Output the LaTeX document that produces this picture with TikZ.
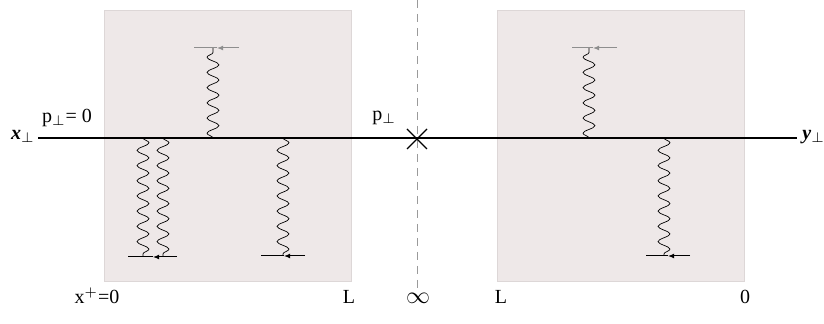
\documentclass[tikz,border=0pt]{standalone}
\usepackage{fontspec}
\setmainfont{Liberation Serif}
\usetikzlibrary{arrows.meta,decorations.pathmorphing,positioning,calc}
\definecolor{medfill}{HTML}{EEE8E8}
\definecolor{mededge}{HTML}{DDD7D7}
\definecolor{greyline}{HTML}{8E8E8E}
\definecolor{cutgrey}{HTML}{9A9A9A}
\tikzset{
  medium/.style={fill=medfill, draw=mededge, line width=0.4pt},
  quark/.style={line width=0.55pt, color=black},
  gluon/.style={decorate, decoration={snake, amplitude=3pt, segment length=7.6pt}, line width=0.35pt},
  ext/.style={line width=0.5pt},
  tip/.style={-{Latex[length=3pt,width=2.4pt]}},
  cut/.style={dash pattern=on 4pt off 3pt, color=cutgrey, line width=0.4pt},
  lbl/.style={inner sep=0pt, font=\fontsize{10}{12}\selectfont},
}
\begin{document}
\begin{tikzpicture}[x=0.5pt, y=-0.5pt]
  \useasboundingbox (0,0) rectangle (824,324);
  % the two media
  \draw[medium] (104,10) rectangle (351,281);
  \draw[medium] (497,10) rectangle (744,281);
  % cut at infinity
  \coordinate (cuttop) at (417,0);
  \coordinate (cutbot) at (417,292);
  \draw[cut] (cuttop) -- (cutbot);
  % quark line
  \node[lbl, anchor=base east] (xperp) at (35,140) {{\bfseries\itshape x}$_\perp$};
  \node[lbl, anchor=base west] (yperp) at (802,140) {{\bfseries\itshape y}$_\perp$};
  \coordinate (qa) at (38,138);
  \coordinate (qb) at (797,138);
  \draw[quark] (qa) -- (qb);
  \node[lbl] (pzero) at (67,118) {p$_\perp$= 0};
  \node[lbl] (pcut) at (384,118) {p$_\perp$};
  % final state cross
  \coordinate (fs) at (417,139);
  \draw[line width=0.6pt] ($(fs)+(-10,-10)$) -- ($(fs)+(10,10)$);
  \draw[line width=0.6pt] ($(fs)+(-10,10)$) -- ($(fs)+(10,-10)$);
  % scattering centres: name/x/y end/left/right/tip/colour
  \foreach \n/\gx/\gy/\lx/\rx/\mx/\c in {
      ga/213/48/194/239/217/greyline,
      gb/143/257/128/177/153/black,
      gc/283/256/261/305/284/black,
      gd/589/48/572/617/593/greyline,
      ge/664/256/646/690/668/black} {
    \coordinate (\n q) at (\gx,138);
    \coordinate (\n s) at (\gx,\gy);
    \coordinate (\n l) at (\lx,\gy);
    \coordinate (\n r) at (\rx,\gy);
    \coordinate (\n m) at (\mx,\gy);
    \draw[gluon] (\n q) -- (\n s);
    \draw[ext, \c, tip] (\n r) -- (\n m);
    \draw[ext, \c] (\n m) -- (\n l);
  }
  \coordinate (gfq) at (163,138);
  \coordinate (gfs) at (163,257);
  \draw[gluon] (gfq) -- (gfs);
  % light-cone labels
  \node[lbl, anchor=base] (xzero) at (97,304) {x$^+$=0};
  \node[lbl, anchor=base] (lleft) at (349,304) {L};
  \node[lbl, anchor=base] (inf) at (418,304) {\large$\infty$};
  \node[lbl, anchor=base] (lright) at (501,304) {L};
  \node[lbl, anchor=base] (zero) at (745,304) {0};
\end{tikzpicture}
\end{document}
